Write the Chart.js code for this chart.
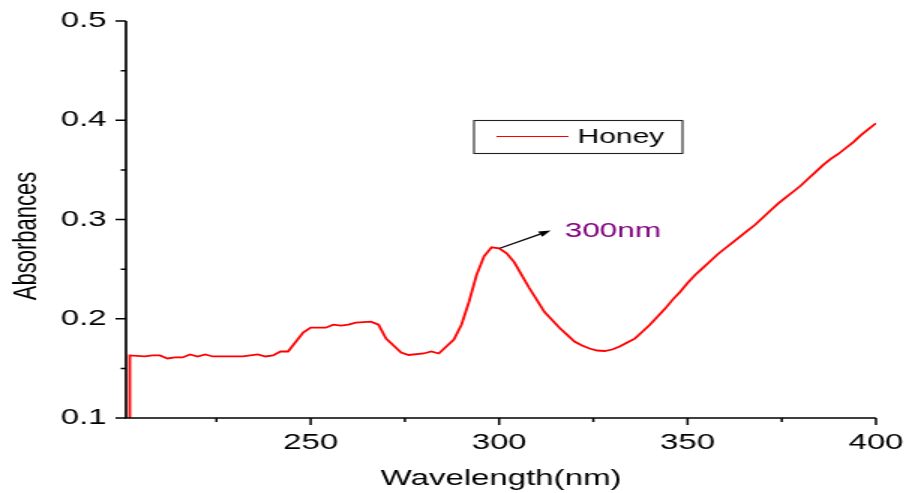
<!DOCTYPE html>
<html>
<head>
<meta charset="utf-8">
<title>Honey absorbance</title>
<script src="https://cdn.jsdelivr.net/npm/chart.js@4.4.0/dist/chart.umd.min.js"></script>
<style>
  html, body { margin: 0; padding: 0; background: #fff; overflow: hidden; }
  #wrap { width: 905px; height: 493px; }
  /* the plot is drawn narrow and widened, which gives the broad lettering */
  #spectrum { transform: scale(1.5, 1); transform-origin: 0 0; }
</style>
</head>
<body>
<div id="wrap"><canvas id="spectrum" width="603" height="493"></canvas></div>
<script>
// UV spectrum of honey
const wavelengths = [201.8, 202, 206, 208, 210, 212, 214, 216, 218, 220, 222, 224, 226, 228, 230, 232,
  236, 238, 240, 242, 244, 248, 250, 254, 256, 258, 260, 262, 266, 268, 270, 274, 276, 280, 282, 284,
  288, 290, 292, 294, 296, 298, 300, 302, 304, 306, 308, 310, 312, 314, 316, 318, 320, 322, 324, 326,
  328, 330, 332, 334, 336, 338, 340, 342, 344, 346, 348, 350, 352, 354, 356, 358, 360, 362, 364, 366,
  368, 370, 372, 374, 376, 378, 380, 382, 384, 386, 388, 390, 392, 394, 396, 398, 400];
const absorbance = [0.05, 0.163, 0.162, 0.163, 0.163, 0.160, 0.161, 0.161, 0.164, 0.162, 0.164, 0.162, 0.162, 0.162, 0.162, 0.162,
  0.164, 0.162, 0.163, 0.167, 0.167, 0.186, 0.191, 0.191, 0.194, 0.193, 0.194, 0.196, 0.197, 0.194, 0.180, 0.166, 0.1635, 0.165, 0.167, 0.165,
  0.179, 0.194, 0.217, 0.244, 0.263, 0.272, 0.271, 0.266, 0.257, 0.244, 0.231, 0.219, 0.207, 0.199, 0.191, 0.184, 0.177, 0.173, 0.170, 0.168,
  0.1675, 0.169, 0.172, 0.176, 0.180, 0.187, 0.194, 0.202, 0.210, 0.219, 0.227, 0.236, 0.244, 0.251, 0.258, 0.265, 0.271, 0.277, 0.283, 0.289,
  0.295, 0.302, 0.309, 0.316, 0.322, 0.328, 0.334, 0.341, 0.348, 0.355, 0.361, 0.366, 0.372, 0.378, 0.385, 0.391, 0.397];

const xTicks = [250, 300, 350, 400];
const xMinorTicks = [225, 275, 325, 375];
const yTicks = [0.1, 0.2, 0.3, 0.4, 0.5];
const yMinorTicks = [0.15, 0.25, 0.35, 0.45];

const seriesName = 'Honey';
const yTitle = 'Absorbances';
const peakText = '300nm';
const peakAt = [300.2, 0.271];
const arrowTip = [313.7, 0.289];
const peakTextAt = [317.4, 0.2885];

const FONT = '"Liberation Sans", Arial, sans-serif';

// axes, outward ticks, y title, boxed legend and the peak arrow
const decorations = {
  id: 'decorations',
  afterDatasetsDraw(chart) {
    const { ctx, chartArea: a, scales: { x, y } } = chart;
    ctx.save();
    ctx.strokeStyle = '#000';
    ctx.lineWidth = 1.7;
    ctx.beginPath();
    ctx.moveTo(a.left, a.top);
    ctx.lineTo(a.left, a.bottom);
    ctx.lineTo(a.right, a.bottom);
    ctx.stroke();

    ctx.lineWidth = 1.5;
    ctx.beginPath();
    yTicks.forEach(v => { const p = y.getPixelForValue(v); ctx.moveTo(a.left, p); ctx.lineTo(a.left - 7, p); });
    yMinorTicks.forEach(v => { const p = y.getPixelForValue(v); ctx.moveTo(a.left, p); ctx.lineTo(a.left - 3.5, p); });
    xTicks.forEach(v => { const p = x.getPixelForValue(v); ctx.moveTo(p, a.bottom); ctx.lineTo(p, a.bottom + 7); });
    xMinorTicks.forEach(v => { const p = x.getPixelForValue(v); ctx.moveTo(p, a.bottom); ctx.lineTo(p, a.bottom + 4); });
    ctx.stroke();

    // rotated y title, sitting a little below the middle of the axis
    ctx.save();
    ctx.translate(17.5, 236);
    ctx.rotate(-Math.PI / 2);
    ctx.fillStyle = '#000';
    ctx.font = '22px ' + FONT;
    ctx.textAlign = 'center';
    ctx.textBaseline = 'middle';
    ctx.fillText(yTitle, 0, 0);
    ctx.restore();

    // legend box
    ctx.lineWidth = 1.1;
    ctx.strokeStyle = '#222';
    ctx.strokeRect(316, 120.5, 139, 33);
    ctx.strokeStyle = '#ff0000';
    ctx.lineWidth = 1.2;
    ctx.beginPath();
    ctx.moveTo(331, 136.5);
    ctx.lineTo(379, 136.5);
    ctx.stroke();
    ctx.fillStyle = '#000';
    ctx.font = '20px ' + FONT;
    ctx.textAlign = 'left';
    ctx.textBaseline = 'middle';
    ctx.fillText(seriesName, 385, 137);

    // arrow from the peak to its label
    const x0 = x.getPixelForValue(peakAt[0]), y0 = y.getPixelForValue(peakAt[1]);
    const x1 = x.getPixelForValue(arrowTip[0]), y1 = y.getPixelForValue(arrowTip[1]);
    const ang = Math.atan2(y1 - y0, x1 - x0);
    const head = 8, half = 3;
    const bx = x1 - head * Math.cos(ang), by = y1 - head * Math.sin(ang);
    ctx.strokeStyle = '#000';
    ctx.lineWidth = 1.2;
    ctx.beginPath();
    ctx.moveTo(x0, y0);
    ctx.lineTo(bx, by);
    ctx.stroke();
    ctx.fillStyle = '#000';
    ctx.beginPath();
    ctx.moveTo(x1, y1);
    ctx.lineTo(bx + half * Math.sin(ang), by - half * Math.cos(ang));
    ctx.lineTo(bx - half * Math.sin(ang), by + half * Math.cos(ang));
    ctx.closePath();
    ctx.fill();

    ctx.fillStyle = '#800080';
    ctx.font = '21px ' + FONT;
    ctx.fillText(peakText, x.getPixelForValue(peakTextAt[0]), y.getPixelForValue(peakTextAt[1]));
    ctx.restore();
  }
};

new Chart(document.getElementById('spectrum'), {
  type: 'line',
  data: {
    datasets: [{
      label: seriesName,
      data: wavelengths.map((w, i) => ({ x: w, y: absorbance[i] })),
      borderColor: '#ff0000',
      borderWidth: 1.8,
      pointRadius: 0,
      tension: 0,
      fill: false,
      clip: 0
    }]
  },
  options: {
    responsive: false,
    devicePixelRatio: 1,
    animation: false,
    events: [],
    layout: { padding: { top: 21, right: 19, left: 0, bottom: 0 } },
    plugins: { legend: { display: false }, tooltip: { enabled: false } },
    scales: {
      x: {
        type: 'linear',
        min: 201,
        max: 400,
        grid: { display: false },
        border: { display: false },
        afterBuildTicks: scale => { scale.ticks = xTicks.map(value => ({ value })); },
        afterFit: scale => {
          scale.height = 75;
          scale.paddingLeft = 0;
          scale.paddingRight = 0;
        },
        ticks: { color: '#000', padding: 4, maxRotation: 0, font: { family: FONT, size: 22 } },
        title: { display: true, text: 'Wavelength(nm)', color: '#000', padding: { top: 0, bottom: 1 }, font: { family: FONT, size: 22 } }
      },
      y: {
        min: 0.1,
        max: 0.5,
        grid: { display: false },
        border: { display: false },
        afterBuildTicks: scale => { scale.ticks = yTicks.map(value => ({ value })); },
        afterFit: scale => {
          scale.width = 84;
          scale.paddingTop = 0;
          scale.paddingBottom = 0;
        },
        ticks: { color: '#000', padding: 5, callback: v => v.toFixed(1), font: { family: FONT, size: 22 } }
      }
    }
  },
  plugins: [decorations]
});
</script>
</body>
</html>
